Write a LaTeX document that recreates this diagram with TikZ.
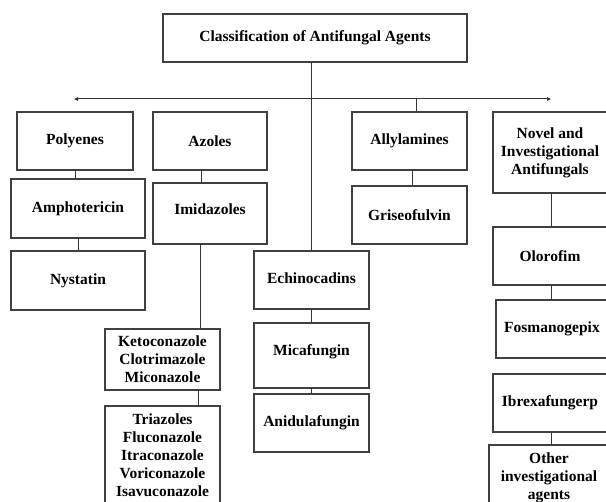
\documentclass[tikz,border=0pt]{standalone}
\usepackage{fontspec}
\setmainfont{Liberation Serif}
\usetikzlibrary{arrows.meta}
\begin{document}
\begin{tikzpicture}[x=1pt,y=-1pt,
  box/.style={draw=black!75, line width=1.1pt, inner sep=0pt, outer sep=0pt,
    align=center, font=\fontsize{15.5}{17.9}\selectfont\bfseries, text=black},
  conn/.style={draw=black!80, line width=1pt}]
\useasboundingbox (0,0) rectangle (606,502);
\clip (0,0) rectangle (606,502);
\fill[white] (0,0) rectangle (606,502);
% boxes
\node[box, minimum width=304pt, minimum height=48pt] (title) at (315,38) {Classification of Antifungal Agents};
\node[box, minimum width=116pt, minimum height=58pt] (polyenes) at (75,141) {Polyenes};
\node[box, minimum width=114pt, minimum height=58pt] (azoles) at (210,141) {Azoles};
\node[box, minimum width=115pt, minimum height=58pt] (allyl) at (409.5,141) {Allylamines};
\node[box, minimum width=114pt, minimum height=81pt] (novel) at (550,152.5) {Novel and\\Investigational\\Antifungals};
\node[box, minimum width=134pt, minimum height=59pt] (ampho) at (78,208.5) {Amphotericin};
\node[box, minimum width=114pt, minimum height=61pt] (imid) at (210,213.5) {\raisebox{4pt}[\height][\depth]{Imidazoles}};
\node[box, minimum width=115pt, minimum height=58pt] (gris) at (409.5,215) {Griseofulvin};
\node[box, minimum width=114pt, minimum height=58pt] (olorofim) at (550,256) {Olorofim};
\node[box, minimum width=134pt, minimum height=59pt] (nystatin) at (78,280.5) {Nystatin};
\node[box, minimum width=115pt, minimum height=58pt] (echino) at (311.5,280) {\raisebox{2pt}[\height][\depth]{Echinocadins}};
\node[box, minimum width=112pt, minimum height=58pt] (fos) at (552,329) {Fosmanogepix};
\node[box, minimum width=115pt, minimum height=61pt] (keto) at (162.5,359.5) {Ketoconazole\\Clotrimazole\\Miconazole};
\node[box, minimum width=115pt, minimum height=65pt] (mica) at (311.5,355.5) {\raisebox{4pt}[\height][\depth]{Micafungin}};
\node[box, minimum width=114pt, minimum height=58pt] (ibrex) at (550,403) {Ibrexafungerp};
\node[box, minimum width=115pt, minimum height=58pt] (anid) at (311.5,423) {Anidulafungin};
\node[box, minimum width=115pt, minimum height=98pt] (tria) at (162.5,455) {Triazoles\\Fluconazole\\Itraconazole\\Voriconazole\\Isavuconazole};
\node[box, minimum width=120pt, minimum height=65pt] (other) at (549,477.5) {Other\\investigational\\agents};
% horizontal distribution line
\coordinate (hl) at (74,99);
\coordinate (hr) at (551,99);
\draw[conn, {Triangle[length=4pt,width=3.5pt]}-{Triangle[length=4pt,width=3.5pt]}] (hl) -- (hr);
% connectors
\draw[conn] (title.south -| echino.north) -- (echino.north);
\draw[conn] ([xshift=6.5pt]allyl.north) -- ([xshift=6.5pt]allyl.north |- hl);
\draw[conn] (polyenes.south) -- (polyenes.south |- ampho.north);
\draw[conn] ([xshift=-9pt]azoles.south) -- ([xshift=-9pt]azoles.south |- imid.north);
\draw[conn] ([xshift=3pt]allyl.south) -- ([xshift=3pt]allyl.south |- gris.north);
\draw[conn] ([xshift=1.5pt]novel.south) -- ([xshift=1.5pt]novel.south |- olorofim.north);
\draw[conn] (ampho.south) -- (nystatin.north);
\draw[conn] ([xshift=-10pt]imid.south) -- ([xshift=-10pt]imid.south |- keto.north);
\draw[conn] ([xshift=36pt]keto.south) -- ([xshift=36pt]keto.south |- tria.north);
\draw[conn] (echino.south) -- (mica.north);
\draw[conn] (mica.south) -- (anid.north);
\draw[conn] ([xshift=1.5pt]olorofim.south) -- ([xshift=1.5pt]olorofim.south |- fos.north);
\draw[conn] ([xshift=1.5pt]fos.south -| olorofim.south) -- ([xshift=1.5pt]fos.south -| olorofim.south |- ibrex.north);
\draw[conn] ([xshift=1.5pt]ibrex.south) -- ([xshift=1.5pt]ibrex.south |- other.north);
\end{tikzpicture}
\end{document}
